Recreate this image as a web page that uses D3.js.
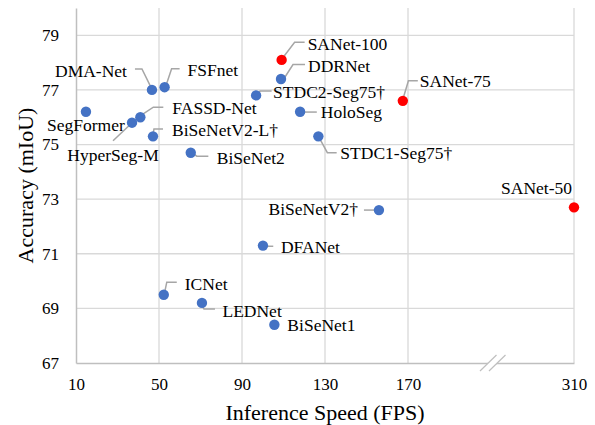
<!DOCTYPE html>
<html>
<head>
<meta charset="utf-8">
<script src="https://cdn.jsdelivr.net/npm/d3@7"></script>
<style>
  body { margin: 0; background: #fff; }
  svg text { font-family: "Liberation Serif", "Times New Roman", serif; fill: #000; }
</style>
</head>
<body>
<svg width="595" height="425"></svg>
<script>
// models, speed (FPS) and accuracy (mIoU)
const models = ['SegFormer', 'HyperSeg-M', 'FASSD-Net', 'DMA-Net', 'FSFnet', 'BiSeNetV2-L†',
  'BiSeNet2', 'STDC2-Seg75†', 'SANet-100', 'DDRNet', 'HoloSeg', 'STDC1-Seg75†', 'SANet-75',
  'BiSeNetV2†', 'SANet-50', 'DFANet', 'ICNet', 'LEDNet', 'BiSeNet1'];
const fps = [14.8, 37.0, 41.0, 46.6, 52.7, 47.1, 65.3, 96.8, 109.1, 108.8, 118.0, 126.8, 167.5,
  156.0, 310, 100.1, 52.3, 70.7, 105.6];
const miou = [76.2, 75.8, 76.0, 77.0, 77.1, 75.3, 74.7, 76.8, 78.1, 77.4, 76.2, 75.3, 76.6,
  72.6, 72.7, 71.3, 69.5, 69.2, 68.4];
const xTicks = [10, 50, 90, 130, 170, 310];
const yTicks = [67, 69, 71, 73, 75, 77, 79];

// label placement relative to the point: [dx, dy, anchor, leader polyline]
const labelLayout = [
  [-39, 13, 'start', []],
  [-19, 33, 'middle', [[-19, 18], [-2, 2]]],
  [32, -9, 'start', [[23, -10], [13, -10], [1.4, -2.3]]],
  [-25, -19, 'end', [[-17, -21], [-10, -21], [-1.3, -3.3]]],
  [23, -17, 'start', [[15, -18.4], [7, -18.4], [2, -3.4]]],
  [19, -6.4, 'start', [[10, -7.4], [1, -7.4], [0.3, -3.4]]],
  [26, 5, 'start', [[2.6, 1], [6, 3.4], [17.6, 3.4]]],
  [17, -3.3, 'start', [[15.5, -4.3], [4, -4.3], [2, -2]]],
  [26, -16, 'start', [[23, -17.6], [13, -17.6], [1.6, -2.6]]],
  [27, -12.7, 'start', [[24, -14.4], [12, -14.4], [4, -2]]],
  [20.7, 0.3, 'start', [[2, 0.3], [16.7, 0.3]]],
  [22, 17.3, 'start', [[2.3, 4], [9, 16.3], [18.3, 16.3]]],
  [17, -20, 'start', [[15, -20], [5.6, -20], [0.6, -3.3]]],
  [-21, -0.7, 'end', [[-15, 0], [-3.6, 0]]],
  [-2, -18.7, 'end', []],
  [18, 2, 'start', [[3.7, 0.7], [10.3, 0.7]]],
  [21, -11, 'start', [[13, -12.6], [3, -12.6], [1.3, -4.3]]],
  [20.5, 8, 'start', [[-0.3, 2], [2, 6], [13, 6]]],
  [13, 0, 'start', []]
];

const data = models.map((name, i) => ({
  name, fps: fps[i], miou: miou[i], ours: name.startsWith('SANet'), layout: labelLayout[i]
}));

const svg = d3.select('svg');
const margin = {top: 8, right: 21, bottom: 62, left: 76};
const width = +svg.attr('width') - margin.left - margin.right;
const height = +svg.attr('height') - margin.top - margin.bottom;
const g = svg.append('g')
  .attr('transform', `translate(${margin.left},${margin.top})`);

// broken axis: 170 -> 310 squeezed into two grid steps
const x = d3.scaleLinear()
  .domain([10, 170, 310])
  .range([0, width * 4 / 6, width]);

const y = d3.scaleLinear()
  .domain([67, 80])
  .range([height, 0]);

const gridColor = '#d9d9d9';
const axisColor = '#bfbfbf';

// grid
g.selectAll('.hgrid')
  .data(yTicks.slice(1))
  .enter().append('line')
    .attr('x1', 0)
    .attr('x2', width)
    .attr('y1', d => y(d))
    .attr('y2', d => y(d))
    .attr('stroke', gridColor)
    .attr('stroke-width', 1.3);

g.selectAll('.vgrid')
  .data(xTicks.slice(1))
  .enter().append('line')
    .attr('x1', d => x(d))
    .attr('x2', d => x(d))
    .attr('y1', 0)
    .attr('y2', height)
    .attr('stroke', gridColor)
    .attr('stroke-width', 1.3);

// axes
g.append('g')
  .attr('transform', `translate(0,${height})`)
  .call(d3.axisBottom(x).tickValues(xTicks).tickSize(0).tickPadding(15))
  .call(a => a.select('.domain').attr('stroke', axisColor).attr('stroke-width', 1.5))
  .call(a => a.selectAll('text').attr('font-size', 17).attr('font-family', null));

g.append('g')
  .call(d3.axisLeft(y).tickValues(yTicks).tickSize(0).tickPadding(17))
  .call(a => a.select('.domain').attr('stroke', axisColor).attr('stroke-width', 1.5))
  .call(a => a.selectAll('text').attr('font-size', 17).attr('font-family', null));

// axis break marks
const bx = (x(170) + x(310)) / 2 + 2;
const brk = g.append('g').attr('transform', `translate(${bx},${height})`);
brk.append('path')
  .attr('d', 'M-13,8L3.5,-8L12.5,-8L-4,8Z')
  .attr('fill', '#fff');
brk.selectAll('line')
  .data([-13, -4])
  .enter().append('line')
    .attr('x1', d => d)
    .attr('y1', 8)
    .attr('x2', d => d + 16.5)
    .attr('y2', -8)
    .attr('stroke', axisColor)
    .attr('stroke-width', 1.2);

// leader lines
const pts = g.selectAll('.pt')
  .data(data)
  .enter().append('g')
    .attr('transform', d => `translate(${x(d.fps)},${y(d.miou)})`);

pts.filter(d => d.layout[3].length)
  .append('path')
    .attr('d', d => d3.line()(d.layout[3]))
    .attr('fill', 'none')
    .attr('stroke', '#a6a6a6')
    .attr('stroke-width', 1.5);

pts.append('circle')
  .attr('r', 5.2)
  .attr('fill', d => d.ours ? '#ff0000' : '#4472c4');

pts.append('text')
  .attr('x', d => d.layout[0])
  .attr('y', d => d.layout[1])
  .attr('dy', '0.33em')
  .attr('text-anchor', d => d.layout[2])
  .attr('font-size', 17.5)
  .text(d => d.name);

// axis titles
svg.append('text')
  .attr('x', margin.left + x(130))
  .attr('y', 420)
  .attr('text-anchor', 'middle')
  .attr('font-size', 22)
  .text('Inference Speed (FPS)');

svg.append('text')
  .attr('transform', `translate(33,${margin.top + height / 2}) rotate(-90)`)
  .attr('text-anchor', 'middle')
  .attr('font-size', 22)
  .text('Accuracy (mIoU)');
</script>
</body>
</html>
